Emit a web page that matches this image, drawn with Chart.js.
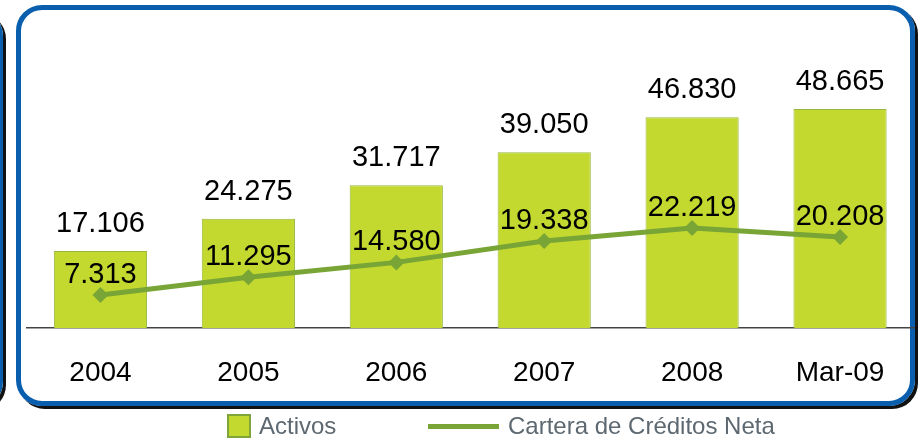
<!DOCTYPE html>
<html>
<head>
<meta charset="utf-8">
<script src="https://cdn.jsdelivr.net/npm/chart.js@4.4.0/dist/chart.umd.min.js"></script>
<style>
  html, body { margin: 0; padding: 0; background: #fff; }
  body { width: 922px; height: 441px; position: relative; overflow: hidden; font-family: "Liberation Sans", Arial, sans-serif; }
  .frame {
    position: absolute; box-sizing: border-box;
    border: 5px solid #0a5eae; border-radius: 26px;
    box-shadow: 3px 3px 0 #111;
  }
  #main { left: 16px; top: 5px; width: 899px; height: 401px; }
  #side { left: -900px; top: 10px; width: 903px; height: 398px; }
  #wrap { position: absolute; left: 0; top: 0; width: 922px; height: 441px; }
  .legend { position: absolute; top: 414px; height: 24px; display: flex; align-items: center; color: #5d6870; font-size: 24px; }
  .sw { width: 20px; height: 20px; background: #c3d92f; border: 2px solid #7fa43a; margin-right: 8px; }
  .ln { width: 71px; height: 5px; background: #78a536; margin-right: 9px; }
</style>
</head>
<body>
<div class="frame" id="side"></div>
<div class="frame" id="main"></div>
<div id="wrap"><canvas id="chart" width="922" height="441"></canvas></div>
<div class="legend" style="left:227px"><div class="sw"></div>Activos</div>
<div class="legend" style="left:428px"><div class="ln"></div>Cartera de Créditos Neta</div>
<script>
// Datos del gráfico
const categories = ['2004', '2005', '2006', '2007', '2008', 'Mar-09'];
const activos = [17.106, 24.275, 31.717, 39.050, 46.830, 48.665];
const cartera = [7.313, 11.295, 14.580, 19.338, 22.219, 20.208];

function fmt(v) {
    return v.toFixed(3);
}

// etiquetas de valores sobre barras y puntos
const valueLabels = {
    id: 'valueLabels',
    afterDatasetsDraw(chart) {
        const ctx = chart.ctx;
        ctx.save();
        ctx.font = '29px "Liberation Sans", Arial, sans-serif';
        ctx.fillStyle = '#000';
        ctx.textAlign = 'center';
        ctx.textBaseline = 'alphabetic';
        // dataset 1 = barras (Activos)
        chart.getDatasetMeta(1).data.forEach((bar, i) => {
            ctx.fillText(fmt(activos[i]), bar.x, bar.y - 19);
        });
        // dataset 0 = línea (Cartera)
        chart.getDatasetMeta(0).data.forEach((pt, i) => {
            ctx.fillText(fmt(cartera[i]), pt.x, pt.y - 12);
        });
        ctx.restore();
    }
};

const ctx = document.getElementById('chart').getContext('2d');
new Chart(ctx, {
    data: {
        labels: categories,
        datasets: [
            {
                type: 'line',
                label: 'Cartera de Créditos Neta',
                data: cartera,
                borderColor: '#78a536',
                backgroundColor: '#78a536',
                borderWidth: 5,
                pointStyle: 'rectRot',
                pointRadius: 8,
                pointBorderWidth: 0,
                tension: 0,
                order: 0
            },
            {
                type: 'bar',
                label: 'Activos',
                data: activos,
                backgroundColor: '#c3d92f',
                borderColor: '#97b83a',
                borderWidth: 1,
                categoryPercentage: 1,
                barPercentage: 0.63,
                order: 1
            }
        ]
    },
    options: {
        responsive: false,
        animation: false,
        layout: { padding: { left: 26.5, right: 8, top: 58, bottom: 0 } },
        plugins: {
            legend: { display: false },
            tooltip: { enabled: false }
        },
        scales: {
            x: {
                grid: { display: false, drawTicks: false },
                border: { display: true, color: '#444', width: 1.5 },
                ticks: {
                    color: '#000',
                    padding: 28,
                    font: { size: 28, family: '"Liberation Sans", Arial, sans-serif' }
                },
                afterFit(scale) { scale.height = 113; }
            },
            y: {
                display: false,
                min: 0,
                max: 60
            }
        }
    },
    plugins: [valueLabels]
});
</script>
</body>
</html>
